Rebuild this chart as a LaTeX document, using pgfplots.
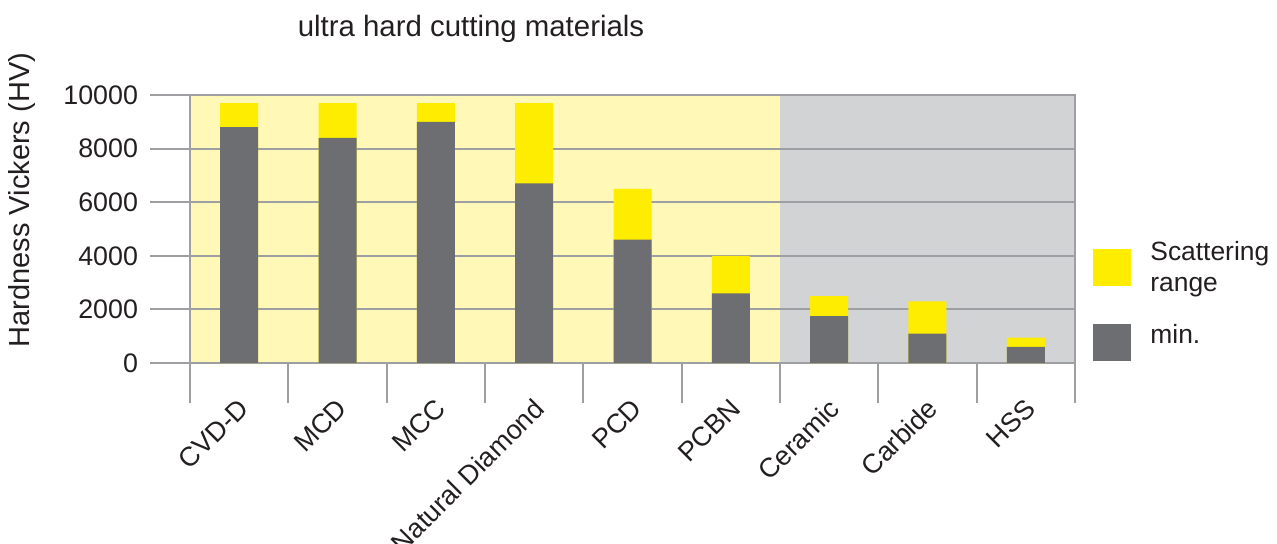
\documentclass[border=0pt]{standalone}
\usepackage{pgfplots}
\pgfplotsset{compat=1.18}
\usepackage{fontspec}
\setmainfont{Liberation Sans}

\definecolor{scatY}{HTML}{FFED00}
\definecolor{minG}{HTML}{6D6E71}
\definecolor{bgY}{HTML}{FFF8B7}
\definecolor{bgG}{HTML}{D1D3D4}
\definecolor{lineG}{HTML}{9D9FA2}
\definecolor{txt}{HTML}{231F20}

% one pixel of the reference = 0.5pt
\pgfplotsset{
  sqlegend/.style={legend image code/.code={\fill[##1, draw=none] (0pt,-9.25pt) rectangle (19pt,9.25pt);}},
}

\begin{document}
\begin{tikzpicture}[text=txt]
\begin{axis}[
  at={(95pt,-181.5pt)}, anchor=south west,
  scale only axis, width=442.5pt, height=134pt,
  set layers,
  xmin=-0.5, xmax=8.5, ymin=0, ymax=10000,
  axis line style={lineG, line width=1pt},
  tick pos=left, tick align=outside,
  major tick length=20pt,
  tick style={lineG, line width=1pt},
  ymajorgrids, grid style={lineG, line width=1pt},
  ytick={0,2000,...,10000},
  scaled y ticks=false,
  /pgf/number format/1000 sep={},
  /pgf/number format/assume math mode=true,
  yticklabel style={font=\fontsize{13.4}{15}\selectfont, xshift=-2.5pt},
  xtick={-0.5,0.5,...,8.5}, xticklabel=\empty,
  extra x ticks={0,...,8},
  extra x tick labels={CVD-D,MCD,MCC,Natural Diamond,PCD,PCBN,Ceramic,Carbide,HSS},
  extra x tick style={major tick length=0pt,
    tick label style={rotate=45, anchor=north east, font=\fontsize{13.5}{15}\selectfont, yshift=-7.75pt, xshift=-9.2pt}},
  title={ultra hard cutting materials},
  title style={at={(rel axis cs:0.3175,1)}, anchor=base, yshift=23.5pt, font=\fontsize{14.7}{16}\selectfont},
  ylabel={Hardness Vickers (HV)},
  every axis y label/.style={at={(rel axis cs:0,0.608)}, xshift=-84pt, rotate=90, anchor=center, font=\fontsize{14.5}{16}\selectfont},
  legend cell align=left,
  legend style={at={(rel axis cs:1,0.456)}, anchor=north west, xshift=9pt,
    draw=none, fill=none, inner sep=0pt, font=\fontsize{13.2}{15.5}\selectfont,
    row sep=15pt, column sep=9.5pt, nodes={inner sep=0pt, align=left}},
]
\addplot[ybar interval, fill=bgY, draw=none, on layer=axis background, forget plot]
  coordinates {(-0.5,10000) (5.5,10000)};
\addplot[ybar interval, fill=bgG, draw=none, on layer=axis background, forget plot]
  coordinates {(5.5,10000) (8.5,10000)};

% top of the scattering range
\addplot[ybar, bar width=19pt, bar shift=0pt, fill=scatY, draw=none, sqlegend]
  coordinates {(0,9700) (1,9700) (2,9700) (3,9700) (4,6500) (5,4000) (6,2500) (7,2300) (8,950)};
\addlegendentry{Scattering\\range}
% minimum hardness
\addplot[ybar, bar width=19pt, bar shift=0pt, fill=minG, draw=none, sqlegend]
  coordinates {(0,8800) (1,8400) (2,9000) (3,6700) (4,4600) (5,2600) (6,1750) (7,1100) (8,600)};
\addlegendentry[yshift=3.5pt]{min.}
\end{axis}
\pgfresetboundingbox
\path[use as bounding box] (0,0) rectangle (638.5pt,-271.5pt);
\end{tikzpicture}
\end{document}
